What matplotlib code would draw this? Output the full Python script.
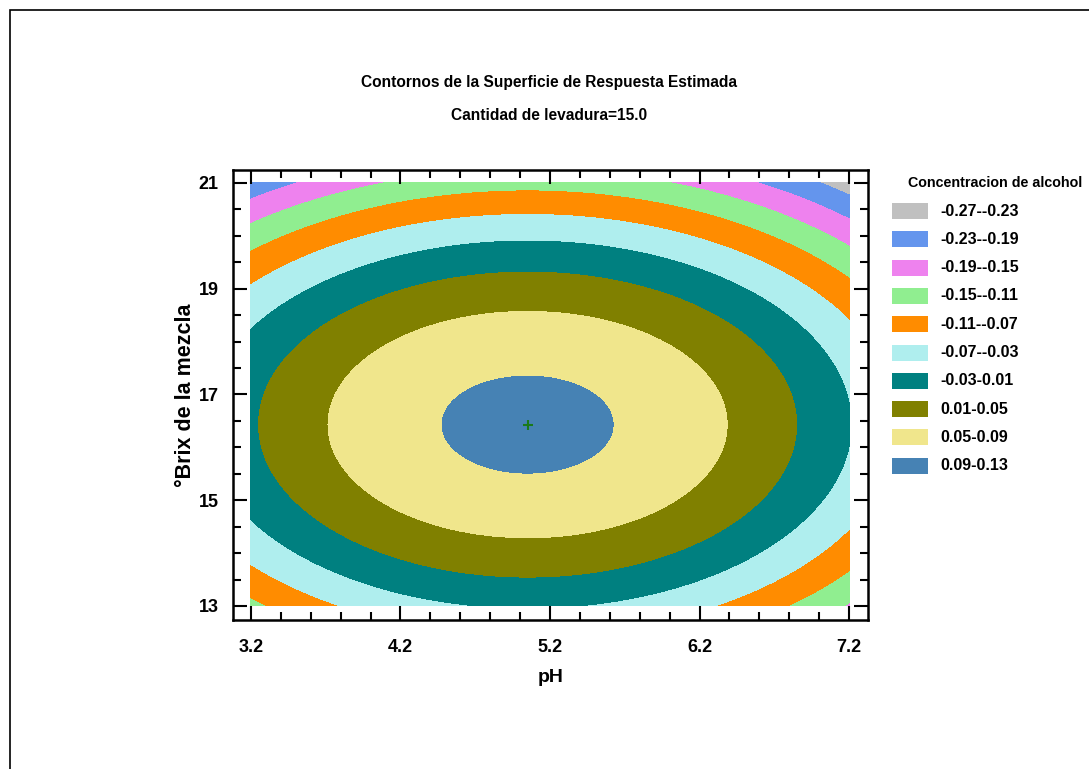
import numpy as np
import matplotlib
matplotlib.use("Agg")
import matplotlib.pyplot as plt
from matplotlib.patches import Rectangle
from matplotlib.ticker import MultipleLocator

# Superficie de respuesta estimada (levadura = 15.0):
# Z = pico - curv_ph*(pH - ph_opt)^2 - curv_brix*(Brix - brix_opt)^2
ph_opt = 5.05
brix_opt = 16.43
pico = 0.099
curv_ph = 0.0275
curv_brix = 0.0107

ph_range = [3.2, 7.2]
brix_range = [13.0, 21.0]

niveles = [-0.27, -0.23, -0.19, -0.15, -0.11, -0.07, -0.03, 0.01, 0.05, 0.09, 0.13]
etiquetas = ["-0.27--0.23", "-0.23--0.19", "-0.19--0.15", "-0.15--0.11", "-0.11--0.07",
             "-0.07--0.03", "-0.03-0.01", "0.01-0.05", "0.05-0.09", "0.09-0.13"]
colores = ["#C0C0C0", "#6495ED", "#EE82EE", "#90EE90", "#FF8C00",
           "#AFEEEE", "#008080", "#808000", "#F0E68C", "#4682B4"]

narrow = ["Liberation Sans Narrow", "Liberation Sans", "DejaVu Sans"]
plt.rcParams["font.family"] = narrow
plt.rcParams["font.weight"] = "bold"

ph = np.linspace(ph_range[0], ph_range[1], 300)
brix = np.linspace(brix_range[0], brix_range[1], 300)
PH, BX = np.meshgrid(ph, brix)
Z = pico - curv_ph * (PH - ph_opt) ** 2 - curv_brix * (BX - brix_opt) ** 2

fig = plt.figure(figsize=(10.89, 7.69), dpi=100)
ax = fig.add_axes([0.2137, 0.1938, 0.5834, 0.5852])

ax.contourf(PH, BX, Z, levels=niveles, colors=colores)
ax.plot([ph_opt], [brix_opt], marker="+", color="#1a7a1a", ms=7, mew=1.5)

ax.set_xlim(3.078, 7.327)
ax.set_ylim(12.735, 21.246)
ax.set_xticks([3.2, 4.2, 5.2, 6.2, 7.2])
ax.xaxis.set_minor_locator(MultipleLocator(0.2))
ax.set_yticks([13, 15, 17, 19, 21])
ax.yaxis.set_minor_locator(MultipleLocator(0.5))
ax.tick_params(which="both", direction="in", top=True, right=True, width=1.5)
ax.tick_params(which="major", length=10, labelsize=13)
ax.tick_params(axis="x", which="major", pad=14)
ax.tick_params(axis="y", which="major", pad=10)
ax.tick_params(which="minor", length=6)
for s in ax.spines.values():
    s.set_linewidth(1.8)

ax.set_xlabel("pH", fontsize=14, fontweight="bold", labelpad=9)
ax.set_ylabel("°Brix de la mezcla", fontsize=15.5, fontweight="bold",
              family=["Liberation Sans", "DejaVu Sans"], labelpad=2)

fig.text(0.504, 1 - 82 / 769, "Contornos de la Superficie de Respuesta Estimada",
         ha="center", va="center", fontsize=11.2, fontweight="bold")
fig.text(0.504, 1 - 115 / 769, "Cantidad de levadura=15.0",
         ha="center", va="center", fontsize=11.2, fontweight="bold")

# leyenda
fig.text(908 / 1089, 1 - 183 / 769, "Concentracion de alcohol",
         ha="left", va="center", fontsize=10.3, fontweight="bold")
for i, (lab, col) in enumerate(zip(etiquetas, colores)):
    yc = 211 + i * 28.3
    fig.patches.append(Rectangle((892 / 1089, 1 - (yc + 8) / 769), 36 / 1089, 16 / 769,
                                 transform=fig.transFigure, facecolor=col,
                                 edgecolor="none"))
    fig.text(940 / 1089, 1 - yc / 769, lab, ha="left", va="center",
             fontsize=11.5, fontweight="bold")

# marco exterior
fig.patches.append(Rectangle((10 / 1089, -0.1), 2, 1.1 - 10 / 769,
                             transform=fig.transFigure, fill=False,
                             edgecolor="black", linewidth=1.2))

fig.savefig("out.png", dpi=100)
